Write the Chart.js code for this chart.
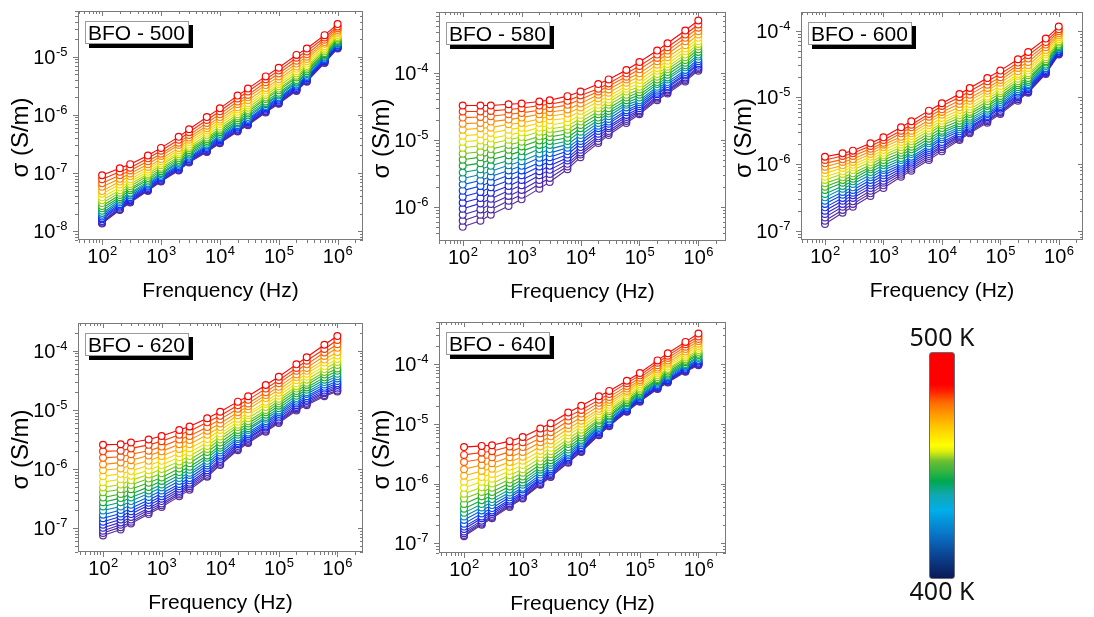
<!DOCTYPE html>
<html><head><meta charset="utf-8">
<script src="https://cdn.jsdelivr.net/npm/chart.js@4.4.1/dist/chart.umd.min.js"></script>
<style>
html,body{margin:0;padding:0;background:#fff;}
#wrap{position:relative;width:1094px;height:617px;overflow:hidden;background:#fff;}
#wrap canvas{position:absolute;left:0;top:0;}
#cbar{position:absolute;left:929px;top:352px;width:24px;height:225px;border:1px solid #6a6a7a;border-radius:3px;
background:linear-gradient(to top,#0a1a55 0%,#0b3f8c 9%,#0a6cc0 18%,#00aeea 30%,#10a8b0 37%,#00a850 43%,#6cc030 52%,#d8ec10 56%,#ffff00 59%,#ffd000 66%,#ffa000 72%,#ff6a00 78%,#ff2000 83%,#ff0000 86%,#ff0000 100%);}
.cbl{position:absolute;font-family:"Noto Sans",sans-serif;font-size:25px;color:#111;width:100px;text-align:center;line-height:1;}
</style></head><body>
<div id="wrap">
<canvas id="c1" width="1094" height="617"></canvas>
<canvas id="c2" width="1094" height="617"></canvas>
<canvas id="c3" width="1094" height="617"></canvas>
<canvas id="c4" width="1094" height="617"></canvas>
<canvas id="c5" width="1094" height="617"></canvas>
<div id="cbar"></div>
<div class="cbl" style="left:892px;top:324px">500 K</div>
<div class="cbl" style="left:892px;top:578px">400 K</div>
</div>
<script>
// ---------- DATA ----------
const freqs = [100,200,300,600,1000,2000,3000,6000,1e4,2e4,3e4,6e4,1e5,2e5,3e5,6e5,1e6];
const temps = [400,405,410,415,420,425,430,435,440,445,450,455,460,465,470,475,480,485,490,495,500];
const sampleNames = ['BFO - 500','BFO - 580','BFO - 600','BFO - 620','BFO - 640'];
const xTitles = ['Frenquency (Hz)','Frequency (Hz)','Frequency (Hz)','Frequency (Hz)','Frequency (Hz)'];

// log10(sigma / S m^-1), one row per temperature (400 K ... 500 K), one column per frequency
const logSigma500 = [
[-7.87,-7.64,-7.51,-7.31,-7.15,-6.96,-6.82,-6.64,-6.49,-6.29,-6.18,-5.96,-5.81,-5.59,-5.43,-5.11,-4.86],
[-7.86,-7.63,-7.50,-7.30,-7.14,-6.95,-6.81,-6.63,-6.48,-6.28,-6.17,-5.95,-5.80,-5.58,-5.42,-5.10,-4.85],
[-7.84,-7.62,-7.49,-7.29,-7.13,-6.94,-6.80,-6.62,-6.47,-6.27,-6.16,-5.94,-5.79,-5.57,-5.41,-5.09,-4.85],
[-7.83,-7.60,-7.47,-7.28,-7.12,-6.93,-6.79,-6.61,-6.46,-6.26,-6.15,-5.93,-5.78,-5.56,-5.40,-5.08,-4.84],
[-7.80,-7.58,-7.46,-7.26,-7.10,-6.91,-6.77,-6.59,-6.44,-6.24,-6.13,-5.91,-5.76,-5.54,-5.38,-5.07,-4.83],
[-7.78,-7.56,-7.44,-7.24,-7.09,-6.90,-6.76,-6.57,-6.42,-6.22,-6.11,-5.89,-5.74,-5.52,-5.37,-5.06,-4.81],
[-7.75,-7.54,-7.42,-7.22,-7.07,-6.88,-6.74,-6.55,-6.40,-6.20,-6.09,-5.87,-5.72,-5.50,-5.35,-5.04,-4.80],
[-7.72,-7.51,-7.39,-7.20,-7.05,-6.86,-6.72,-6.53,-6.38,-6.18,-6.07,-5.85,-5.70,-5.48,-5.33,-5.02,-4.78],
[-7.69,-7.48,-7.36,-7.18,-7.02,-6.83,-6.69,-6.51,-6.36,-6.15,-6.04,-5.82,-5.67,-5.45,-5.30,-5.00,-4.77],
[-7.65,-7.45,-7.34,-7.15,-7.00,-6.81,-6.67,-6.48,-6.33,-6.13,-6.01,-5.80,-5.65,-5.43,-5.28,-4.98,-4.75],
[-7.61,-7.42,-7.30,-7.12,-6.97,-6.78,-6.64,-6.45,-6.30,-6.10,-5.98,-5.77,-5.62,-5.40,-5.25,-4.96,-4.73],
[-7.57,-7.38,-7.27,-7.09,-6.94,-6.75,-6.61,-6.42,-6.27,-6.06,-5.95,-5.73,-5.58,-5.36,-5.22,-4.94,-4.71],
[-7.52,-7.34,-7.23,-7.05,-6.91,-6.72,-6.58,-6.39,-6.24,-6.03,-5.92,-5.70,-5.55,-5.33,-5.19,-4.91,-4.68],
[-7.47,-7.30,-7.19,-7.02,-6.87,-6.68,-6.55,-6.35,-6.20,-5.99,-5.88,-5.66,-5.51,-5.29,-5.16,-4.88,-4.66],
[-7.42,-7.25,-7.15,-6.98,-6.84,-6.65,-6.51,-6.31,-6.16,-5.95,-5.84,-5.62,-5.47,-5.25,-5.12,-4.85,-4.63],
[-7.36,-7.20,-7.11,-6.94,-6.80,-6.61,-6.47,-6.27,-6.12,-5.91,-5.80,-5.58,-5.43,-5.21,-5.08,-4.82,-4.60],
[-7.31,-7.15,-7.06,-6.90,-6.76,-6.57,-6.43,-6.23,-6.08,-5.87,-5.75,-5.54,-5.39,-5.17,-5.04,-4.78,-4.57],
[-7.24,-7.10,-7.01,-6.85,-6.71,-6.52,-6.39,-6.19,-6.04,-5.82,-5.70,-5.49,-5.34,-5.12,-5.00,-4.75,-4.54],
[-7.18,-7.04,-6.96,-6.80,-6.67,-6.48,-6.35,-6.14,-5.99,-5.77,-5.66,-5.44,-5.29,-5.07,-4.96,-4.71,-4.51],
[-7.11,-6.98,-6.91,-6.75,-6.62,-6.43,-6.30,-6.09,-5.94,-5.72,-5.60,-5.39,-5.24,-5.02,-4.91,-4.67,-4.48],
[-7.04,-6.92,-6.85,-6.70,-6.57,-6.38,-6.25,-6.04,-5.89,-5.67,-5.55,-5.34,-5.19,-4.97,-4.86,-4.63,-4.44]
];
const logSigma580 = [
[-6.30,-6.21,-6.12,-5.99,-5.89,-5.73,-5.63,-5.44,-5.26,-5.05,-4.93,-4.75,-4.62,-4.41,-4.31,-4.13,-3.97],
[-6.21,-6.12,-6.04,-5.91,-5.82,-5.66,-5.57,-5.40,-5.22,-5.02,-4.90,-4.72,-4.60,-4.39,-4.29,-4.11,-3.95],
[-6.12,-6.04,-5.96,-5.84,-5.75,-5.60,-5.51,-5.36,-5.19,-4.98,-4.87,-4.69,-4.58,-4.37,-4.27,-4.09,-3.93],
[-6.03,-5.95,-5.88,-5.76,-5.68,-5.53,-5.45,-5.31,-5.15,-4.95,-4.83,-4.66,-4.56,-4.35,-4.25,-4.07,-3.91],
[-5.94,-5.87,-5.79,-5.69,-5.60,-5.47,-5.39,-5.27,-5.11,-4.91,-4.80,-4.63,-4.53,-4.32,-4.22,-4.04,-3.88],
[-5.85,-5.78,-5.71,-5.61,-5.53,-5.40,-5.32,-5.22,-5.06,-4.87,-4.76,-4.59,-4.50,-4.30,-4.20,-4.02,-3.86],
[-5.76,-5.69,-5.63,-5.53,-5.46,-5.34,-5.26,-5.17,-5.02,-4.83,-4.73,-4.56,-4.47,-4.27,-4.17,-3.99,-3.83],
[-5.67,-5.61,-5.55,-5.46,-5.39,-5.27,-5.20,-5.12,-4.98,-4.79,-4.69,-4.52,-4.44,-4.24,-4.14,-3.96,-3.80],
[-5.58,-5.52,-5.47,-5.38,-5.32,-5.21,-5.14,-5.07,-4.93,-4.75,-4.65,-4.48,-4.41,-4.21,-4.10,-3.92,-3.76],
[-5.49,-5.44,-5.39,-5.31,-5.25,-5.14,-5.08,-5.02,-4.88,-4.71,-4.61,-4.45,-4.37,-4.17,-4.07,-3.89,-3.73],
[-5.39,-5.35,-5.30,-5.23,-5.17,-5.08,-5.02,-4.97,-4.83,-4.67,-4.57,-4.41,-4.33,-4.14,-4.03,-3.85,-3.69],
[-5.30,-5.26,-5.22,-5.15,-5.10,-5.01,-4.96,-4.91,-4.78,-4.62,-4.53,-4.37,-4.29,-4.10,-3.99,-3.81,-3.65],
[-5.21,-5.18,-5.14,-5.08,-5.03,-4.95,-4.90,-4.85,-4.73,-4.58,-4.48,-4.33,-4.25,-4.06,-3.95,-3.77,-3.61],
[-5.12,-5.09,-5.06,-5.00,-4.96,-4.88,-4.84,-4.80,-4.68,-4.53,-4.44,-4.28,-4.21,-4.02,-3.91,-3.73,-3.57],
[-5.03,-5.01,-4.98,-4.93,-4.89,-4.82,-4.78,-4.74,-4.63,-4.48,-4.40,-4.24,-4.16,-3.97,-3.87,-3.68,-3.53],
[-4.94,-4.92,-4.90,-4.85,-4.82,-4.75,-4.71,-4.68,-4.57,-4.43,-4.35,-4.20,-4.11,-3.93,-3.82,-3.64,-3.48],
[-4.85,-4.83,-4.82,-4.77,-4.75,-4.69,-4.65,-4.61,-4.52,-4.38,-4.30,-4.15,-4.06,-3.88,-3.77,-3.59,-3.43],
[-4.76,-4.75,-4.73,-4.70,-4.67,-4.62,-4.59,-4.55,-4.46,-4.33,-4.25,-4.10,-4.01,-3.83,-3.72,-3.53,-3.38],
[-4.67,-4.66,-4.65,-4.62,-4.60,-4.56,-4.53,-4.48,-4.40,-4.28,-4.20,-4.06,-3.95,-3.78,-3.67,-3.48,-3.33],
[-4.58,-4.58,-4.57,-4.55,-4.53,-4.49,-4.47,-4.42,-4.34,-4.24,-4.16,-4.01,-3.90,-3.73,-3.62,-3.43,-3.28],
[-4.49,-4.49,-4.49,-4.47,-4.46,-4.43,-4.41,-4.35,-4.28,-4.17,-4.10,-3.96,-3.84,-3.67,-3.56,-3.37,-3.22]
];
const logSigma600 = [
[-6.90,-6.73,-6.64,-6.48,-6.36,-6.19,-6.10,-5.94,-5.81,-5.64,-5.54,-5.38,-5.25,-5.05,-4.93,-4.65,-4.36],
[-6.85,-6.69,-6.60,-6.44,-6.32,-6.16,-6.07,-5.91,-5.78,-5.62,-5.52,-5.36,-5.23,-5.03,-4.92,-4.64,-4.35],
[-6.80,-6.64,-6.56,-6.40,-6.28,-6.13,-6.04,-5.88,-5.75,-5.60,-5.50,-5.34,-5.22,-5.02,-4.91,-4.63,-4.35],
[-6.75,-6.60,-6.51,-6.36,-6.25,-6.10,-6.01,-5.85,-5.73,-5.58,-5.48,-5.32,-5.20,-5.00,-4.90,-4.62,-4.34],
[-6.70,-6.55,-6.47,-6.32,-6.21,-6.07,-5.98,-5.82,-5.70,-5.56,-5.46,-5.30,-5.17,-4.98,-4.88,-4.61,-4.33],
[-6.65,-6.51,-6.43,-6.28,-6.17,-6.04,-5.95,-5.79,-5.67,-5.54,-5.44,-5.28,-5.15,-4.96,-4.86,-4.59,-4.31],
[-6.60,-6.46,-6.39,-6.24,-6.13,-6.01,-5.92,-5.76,-5.63,-5.51,-5.41,-5.25,-5.13,-4.93,-4.84,-4.57,-4.30],
[-6.55,-6.42,-6.35,-6.20,-6.09,-5.98,-5.89,-5.73,-5.60,-5.48,-5.38,-5.23,-5.10,-4.91,-4.82,-4.56,-4.28],
[-6.50,-6.37,-6.30,-6.16,-6.06,-5.94,-5.85,-5.69,-5.57,-5.45,-5.35,-5.20,-5.07,-4.88,-4.80,-4.53,-4.27],
[-6.45,-6.33,-6.26,-6.12,-6.02,-5.91,-5.82,-5.66,-5.53,-5.42,-5.32,-5.17,-5.04,-4.85,-4.77,-4.51,-4.25],
[-6.39,-6.28,-6.22,-6.08,-5.98,-5.87,-5.78,-5.62,-5.50,-5.39,-5.29,-5.13,-5.01,-4.82,-4.74,-4.48,-4.23],
[-6.34,-6.24,-6.18,-6.05,-5.94,-5.83,-5.74,-5.58,-5.46,-5.35,-5.25,-5.10,-4.98,-4.79,-4.71,-4.46,-4.21],
[-6.29,-6.20,-6.14,-6.01,-5.90,-5.79,-5.70,-5.54,-5.42,-5.31,-5.22,-5.06,-4.94,-4.76,-4.67,-4.43,-4.18],
[-6.24,-6.15,-6.09,-5.97,-5.87,-5.75,-5.66,-5.50,-5.39,-5.27,-5.18,-5.02,-4.91,-4.72,-4.64,-4.40,-4.16],
[-6.19,-6.11,-6.05,-5.93,-5.83,-5.71,-5.62,-5.46,-5.35,-5.23,-5.14,-4.99,-4.87,-4.68,-4.60,-4.36,-4.13],
[-6.14,-6.06,-6.01,-5.89,-5.79,-5.67,-5.58,-5.42,-5.31,-5.19,-5.10,-4.94,-4.83,-4.65,-4.56,-4.33,-4.10],
[-6.09,-6.02,-5.97,-5.85,-5.75,-5.63,-5.54,-5.38,-5.26,-5.15,-5.05,-4.90,-4.78,-4.61,-4.52,-4.29,-4.07],
[-6.04,-5.97,-5.93,-5.81,-5.71,-5.59,-5.50,-5.34,-5.22,-5.10,-5.01,-4.86,-4.74,-4.56,-4.47,-4.25,-4.04],
[-5.99,-5.93,-5.88,-5.77,-5.68,-5.54,-5.45,-5.29,-5.18,-5.05,-4.96,-4.81,-4.70,-4.52,-4.42,-4.21,-4.01],
[-5.94,-5.88,-5.84,-5.73,-5.64,-5.50,-5.41,-5.25,-5.13,-5.00,-4.91,-4.76,-4.65,-4.48,-4.37,-4.17,-3.98],
[-5.89,-5.84,-5.80,-5.69,-5.60,-5.45,-5.36,-5.20,-5.09,-4.95,-4.86,-4.71,-4.60,-4.43,-4.32,-4.12,-3.94]
];
const logSigma620 = [
[-7.12,-7.02,-6.92,-6.76,-6.64,-6.46,-6.35,-6.13,-5.93,-5.68,-5.56,-5.37,-5.22,-5.01,-4.92,-4.77,-4.69],
[-7.08,-6.98,-6.89,-6.73,-6.61,-6.43,-6.32,-6.11,-5.91,-5.66,-5.54,-5.35,-5.20,-4.99,-4.90,-4.75,-4.67],
[-7.04,-6.94,-6.85,-6.69,-6.58,-6.40,-6.29,-6.08,-5.88,-5.64,-5.52,-5.33,-5.18,-4.97,-4.88,-4.72,-4.64],
[-6.99,-6.90,-6.81,-6.66,-6.54,-6.37,-6.26,-6.05,-5.86,-5.61,-5.49,-5.30,-5.16,-4.95,-4.85,-4.70,-4.61],
[-6.94,-6.85,-6.76,-6.61,-6.50,-6.33,-6.23,-6.02,-5.83,-5.58,-5.47,-5.28,-5.13,-4.92,-4.83,-4.67,-4.58],
[-6.89,-6.80,-6.71,-6.57,-6.46,-6.29,-6.19,-5.98,-5.79,-5.56,-5.44,-5.25,-5.10,-4.89,-4.80,-4.64,-4.55],
[-6.83,-6.75,-6.66,-6.52,-6.41,-6.25,-6.15,-5.94,-5.76,-5.53,-5.41,-5.22,-5.07,-4.86,-4.77,-4.61,-4.51],
[-6.77,-6.69,-6.60,-6.47,-6.36,-6.20,-6.10,-5.90,-5.72,-5.49,-5.38,-5.19,-5.04,-4.83,-4.73,-4.57,-4.47],
[-6.70,-6.63,-6.54,-6.41,-6.31,-6.15,-6.06,-5.86,-5.68,-5.46,-5.34,-5.15,-5.01,-4.80,-4.70,-4.53,-4.43],
[-6.63,-6.56,-6.48,-6.36,-6.26,-6.10,-6.01,-5.81,-5.64,-5.42,-5.31,-5.12,-4.97,-4.76,-4.66,-4.49,-4.39],
[-6.56,-6.49,-6.42,-6.30,-6.20,-6.05,-5.96,-5.77,-5.60,-5.38,-5.27,-5.08,-4.93,-4.72,-4.62,-4.45,-4.34],
[-6.48,-6.42,-6.34,-6.23,-6.14,-5.99,-5.90,-5.71,-5.55,-5.34,-5.23,-5.04,-4.89,-4.68,-4.58,-4.40,-4.30],
[-6.39,-6.34,-6.27,-6.16,-6.07,-5.93,-5.84,-5.66,-5.50,-5.29,-5.19,-5.00,-4.85,-4.64,-4.54,-4.36,-4.24],
[-6.31,-6.26,-6.19,-6.09,-6.00,-5.87,-5.78,-5.61,-5.45,-5.25,-5.14,-4.95,-4.81,-4.60,-4.49,-4.31,-4.19],
[-6.22,-6.17,-6.11,-6.02,-5.93,-5.80,-5.72,-5.55,-5.40,-5.20,-5.09,-4.90,-4.76,-4.55,-4.44,-4.26,-4.14],
[-6.12,-6.08,-6.03,-5.94,-5.86,-5.73,-5.65,-5.49,-5.34,-5.15,-5.05,-4.86,-4.71,-4.50,-4.39,-4.20,-4.08],
[-6.02,-5.99,-5.94,-5.86,-5.78,-5.66,-5.58,-5.42,-5.29,-5.09,-4.99,-4.80,-4.66,-4.45,-4.34,-4.15,-4.02],
[-5.92,-5.89,-5.85,-5.77,-5.70,-5.58,-5.51,-5.35,-5.23,-5.04,-4.94,-4.75,-4.61,-4.40,-4.29,-4.09,-3.95],
[-5.81,-5.79,-5.75,-5.69,-5.62,-5.50,-5.44,-5.29,-5.16,-4.98,-4.89,-4.70,-4.55,-4.34,-4.23,-4.03,-3.89],
[-5.70,-5.69,-5.65,-5.59,-5.53,-5.42,-5.36,-5.21,-5.10,-4.92,-4.83,-4.64,-4.50,-4.29,-4.17,-3.97,-3.82],
[-5.59,-5.58,-5.55,-5.50,-5.44,-5.34,-5.28,-5.14,-5.03,-4.86,-4.77,-4.58,-4.44,-4.23,-4.11,-3.90,-3.75]
];
const logSigma640 = [
[-6.88,-6.69,-6.58,-6.39,-6.25,-6.02,-5.89,-5.65,-5.47,-5.19,-5.04,-4.80,-4.63,-4.42,-4.31,-4.13,-4.02],
[-6.86,-6.67,-6.56,-6.37,-6.24,-6.01,-5.88,-5.64,-5.46,-5.18,-5.03,-4.79,-4.62,-4.41,-4.30,-4.12,-4.01],
[-6.83,-6.65,-6.54,-6.35,-6.22,-5.99,-5.86,-5.62,-5.45,-5.17,-5.02,-4.78,-4.61,-4.40,-4.29,-4.11,-4.00],
[-6.80,-6.62,-6.51,-6.33,-6.19,-5.97,-5.84,-5.60,-5.43,-5.15,-5.01,-4.77,-4.60,-4.39,-4.28,-4.10,-3.99],
[-6.76,-6.58,-6.48,-6.30,-6.17,-5.94,-5.82,-5.58,-5.41,-5.14,-4.99,-4.76,-4.59,-4.38,-4.27,-4.09,-3.98],
[-6.72,-6.55,-6.45,-6.27,-6.14,-5.92,-5.79,-5.56,-5.39,-5.12,-4.98,-4.74,-4.58,-4.37,-4.26,-4.08,-3.96],
[-6.67,-6.50,-6.41,-6.23,-6.10,-5.89,-5.76,-5.53,-5.36,-5.10,-4.96,-4.73,-4.56,-4.35,-4.24,-4.06,-3.94],
[-6.61,-6.45,-6.36,-6.19,-6.07,-5.85,-5.73,-5.50,-5.33,-5.07,-4.93,-4.71,-4.54,-4.33,-4.22,-4.04,-3.93],
[-6.55,-6.40,-6.31,-6.15,-6.02,-5.81,-5.69,-5.47,-5.30,-5.05,-4.91,-4.69,-4.52,-4.31,-4.20,-4.02,-3.90],
[-6.49,-6.34,-6.26,-6.10,-5.98,-5.77,-5.65,-5.43,-5.27,-5.02,-4.88,-4.66,-4.50,-4.29,-4.18,-4.00,-3.88],
[-6.42,-6.28,-6.20,-6.05,-5.93,-5.73,-5.61,-5.39,-5.23,-4.99,-4.86,-4.64,-4.48,-4.27,-4.16,-3.97,-3.85],
[-6.34,-6.21,-6.14,-5.99,-5.88,-5.68,-5.56,-5.34,-5.19,-4.95,-4.83,-4.61,-4.46,-4.25,-4.13,-3.95,-3.83],
[-6.25,-6.14,-6.07,-5.93,-5.82,-5.63,-5.51,-5.30,-5.15,-4.92,-4.79,-4.58,-4.43,-4.22,-4.10,-3.92,-3.80],
[-6.17,-6.06,-6.00,-5.86,-5.76,-5.57,-5.46,-5.25,-5.10,-4.88,-4.76,-4.55,-4.40,-4.19,-4.08,-3.89,-3.77],
[-6.07,-5.97,-5.92,-5.79,-5.69,-5.51,-5.40,-5.19,-5.05,-4.84,-4.72,-4.52,-4.37,-4.16,-4.04,-3.86,-3.73],
[-5.97,-5.89,-5.84,-5.72,-5.62,-5.45,-5.34,-5.14,-5.00,-4.79,-4.68,-4.48,-4.34,-4.13,-4.01,-3.83,-3.70],
[-5.87,-5.79,-5.75,-5.64,-5.55,-5.38,-5.28,-5.08,-4.95,-4.75,-4.64,-4.45,-4.30,-4.09,-3.98,-3.79,-3.66],
[-5.76,-5.69,-5.66,-5.56,-5.47,-5.31,-5.21,-5.02,-4.89,-4.70,-4.60,-4.41,-4.27,-4.06,-3.94,-3.75,-3.62],
[-5.64,-5.59,-5.56,-5.47,-5.39,-5.24,-5.14,-4.95,-4.83,-4.65,-4.55,-4.37,-4.23,-4.02,-3.90,-3.71,-3.58],
[-5.52,-5.48,-5.46,-5.38,-5.31,-5.16,-5.07,-4.88,-4.77,-4.60,-4.50,-4.32,-4.19,-3.98,-3.86,-3.67,-3.54],
[-5.39,-5.37,-5.36,-5.29,-5.22,-5.08,-4.99,-4.81,-4.70,-4.54,-4.45,-4.28,-4.15,-3.94,-3.82,-3.63,-3.49]
];

// ---------- STYLE ----------
const seriesColors = ['#5a2d9e','#50289e','#4428b0','#3428c8','#2020e0','#1030f0','#0040f0','#0060e0','#0088b0','#00a070',
  '#10a838','#30b020','#70c418','#b0d800','#e4e400','#ffd200','#ffae00','#ff8800','#ff6000','#ff3000','#ff0000'];
const FONT = '"Liberation Sans", Arial, sans-serif';

const panels = [
  {id:'c1', rows:logSigma500, name:sampleNames[0], xt:xTitles[0], L:78,  R:363,  T:11,  B:240, xmin:39,   xmax:2.7e6, ymin:7.0e-9, ymax:6.1e-5},
  {id:'c2', rows:logSigma580, name:sampleNames[1], xt:xTitles[1], L:439, R:726,  T:12,  B:241, xmin:39.6, xmax:2.95e6, ymin:3.08e-7, ymax:8.05e-4},
  {id:'c3', rows:logSigma600, name:sampleNames[2], xt:xTitles[2], L:801, R:1083, T:12,  B:240, xmin:38.9, xmax:2.6e6, ymin:7.26e-8, ymax:1.9e-4},
  {id:'c4', rows:logSigma620, name:sampleNames[3], xt:xTitles[3], L:78,  R:363,  T:323, B:552, xmin:37.4, xmax:2.74e6, ymin:3.98e-8, ymax:2.94e-4},
  {id:'c5', rows:logSigma640, name:sampleNames[4], xt:xTitles[4], L:439, R:726,  T:322, B:553, xmin:37.4, xmax:2.95e6, ymin:6.9e-8, ymax:5.04e-4}
];

function drawPow(ctx, exp, x, y, align) {
  const base = '10', sup = String(exp);
  ctx.font = '20px ' + FONT; const wb = ctx.measureText(base).width;
  ctx.font = '13px ' + FONT; const ws = ctx.measureText(sup).width;
  const x0 = align === 'center' ? x - (wb + ws) / 2 : x - (wb + ws);
  ctx.textAlign = 'left'; ctx.textBaseline = 'alphabetic'; ctx.fillStyle = '#000';
  ctx.font = '20px ' + FONT; ctx.fillText(base, x0, y);
  ctx.font = '13px ' + FONT; ctx.fillText(sup, x0 + wb + 0.5, y - 8);
}

const decor = {
  id: 'decor',
  afterDraw(chart) {
    const p = chart.options.plugins.decor;
    const ctx = chart.ctx, a = chart.chartArea, xs = chart.scales.x, ys = chart.scales.y;
    ctx.save();
    ctx.strokeStyle = '#7a7a7a'; ctx.lineWidth = 1;
    ctx.strokeRect(Math.round(a.left) + 0.5, Math.round(a.top) + 0.5, Math.round(a.right - a.left) - 1, Math.round(a.bottom - a.top) - 1);
    ctx.beginPath();
    for (let e = Math.floor(Math.log10(xs.min)); e <= Math.ceil(Math.log10(xs.max)); e++) {
      for (let m = 1; m < 10; m++) {
        const v = m * Math.pow(10, e);
        if (v < xs.min || v > xs.max) continue;
        const px = Math.round(xs.getPixelForValue(v)) + 0.5;
        const len = m === 1 ? 5 : 3;
        ctx.moveTo(px, a.bottom); ctx.lineTo(px, a.bottom + len);
        ctx.moveTo(px, a.top); ctx.lineTo(px, a.top + len);
      }
    }
    for (let e = Math.floor(Math.log10(ys.min)); e <= Math.ceil(Math.log10(ys.max)); e++) {
      for (let m = 1; m < 10; m++) {
        const v = m * Math.pow(10, e);
        if (v < ys.min || v > ys.max) continue;
        const py = Math.round(ys.getPixelForValue(v)) + 0.5;
        const len = m === 1 ? 5 : 3;
        ctx.moveTo(a.left, py); ctx.lineTo(a.left - len, py);
        ctx.moveTo(a.right, py); ctx.lineTo(a.right - len, py);
      }
    }
    ctx.stroke();
    for (let e = Math.ceil(Math.log10(xs.min)); e <= Math.floor(Math.log10(xs.max)); e++) {
      drawPow(ctx, e, xs.getPixelForValue(Math.pow(10, e)), a.bottom + 23, 'center');
    }
    for (let e = Math.ceil(Math.log10(ys.min)); e <= Math.floor(Math.log10(ys.max)); e++) {
      drawPow(ctx, '-' + Math.abs(e), a.left - 11, ys.getPixelForValue(Math.pow(10, e)) + 7, 'right');
    }
    ctx.fillStyle = '#000';
    ctx.font = '21px ' + FONT; ctx.textAlign = 'center'; ctx.textBaseline = 'alphabetic';
    ctx.fillText(p.xt, (a.left + a.right) / 2, a.bottom + 57);
    ctx.save();
    ctx.translate(a.left - 57, (a.top + a.bottom) / 2 + 12);
    ctx.rotate(-Math.PI / 2);
    ctx.textBaseline = 'middle';
    ctx.font = '24px ' + FONT;
    ctx.fillText('σ (S/m)', 0, 0);
    ctx.restore();
    ctx.font = '21px ' + FONT;
    const tw = ctx.measureText(p.name).width;
    const bw = Math.round(tw + 7), bh = 23, bx = Math.round(a.left + 7), by = Math.round(a.top + 10);
    ctx.fillStyle = '#000'; ctx.fillRect(bx + 4, by + 4, bw, bh);
    ctx.fillStyle = '#fff'; ctx.fillRect(bx, by, bw, bh);
    ctx.strokeStyle = '#9a9a9a'; ctx.strokeRect(bx + 0.5, by + 0.5, bw - 1, bh - 1);
    ctx.fillStyle = '#000'; ctx.textAlign = 'left';
    ctx.fillText(p.name, bx + 3, by + bh - 4);
    ctx.restore();
  }
};

panels.forEach(p => {
  const datasets = [];
  for (let j = p.rows.length - 1; j >= 0; j--) {
    datasets.push({
      label: temps[j] + ' K',
      data: freqs.map((f, i) => ({x: f, y: Math.pow(10, p.rows[j][i])})),
      borderColor: seriesColors[j],
      pointBorderColor: seriesColors[j],
      pointBackgroundColor: '#ffffff',
      backgroundColor: '#ffffff',
      borderWidth: 1.1,
      pointRadius: 3.4,
      pointBorderWidth: 1.2,
      tension: 0,
      fill: false
    });
  }
  new Chart(document.getElementById(p.id), {
    type: 'line',
    data: {datasets},
    options: {
      responsive: false, animation: false, devicePixelRatio: 1,
      layout: {padding: {left: p.L, top: p.T, right: 1094 - p.R, bottom: 617 - p.B}},
      plugins: {legend: {display: false}, tooltip: {enabled: false}, decor: {name: p.name, xt: p.xt}},
      scales: {
        x: {type: 'logarithmic', min: p.xmin, max: p.xmax, display: false},
        y: {type: 'logarithmic', min: p.ymin, max: p.ymax, display: false}
      }
    },
    plugins: [decor]
  });
});
</script>
</body></html>
